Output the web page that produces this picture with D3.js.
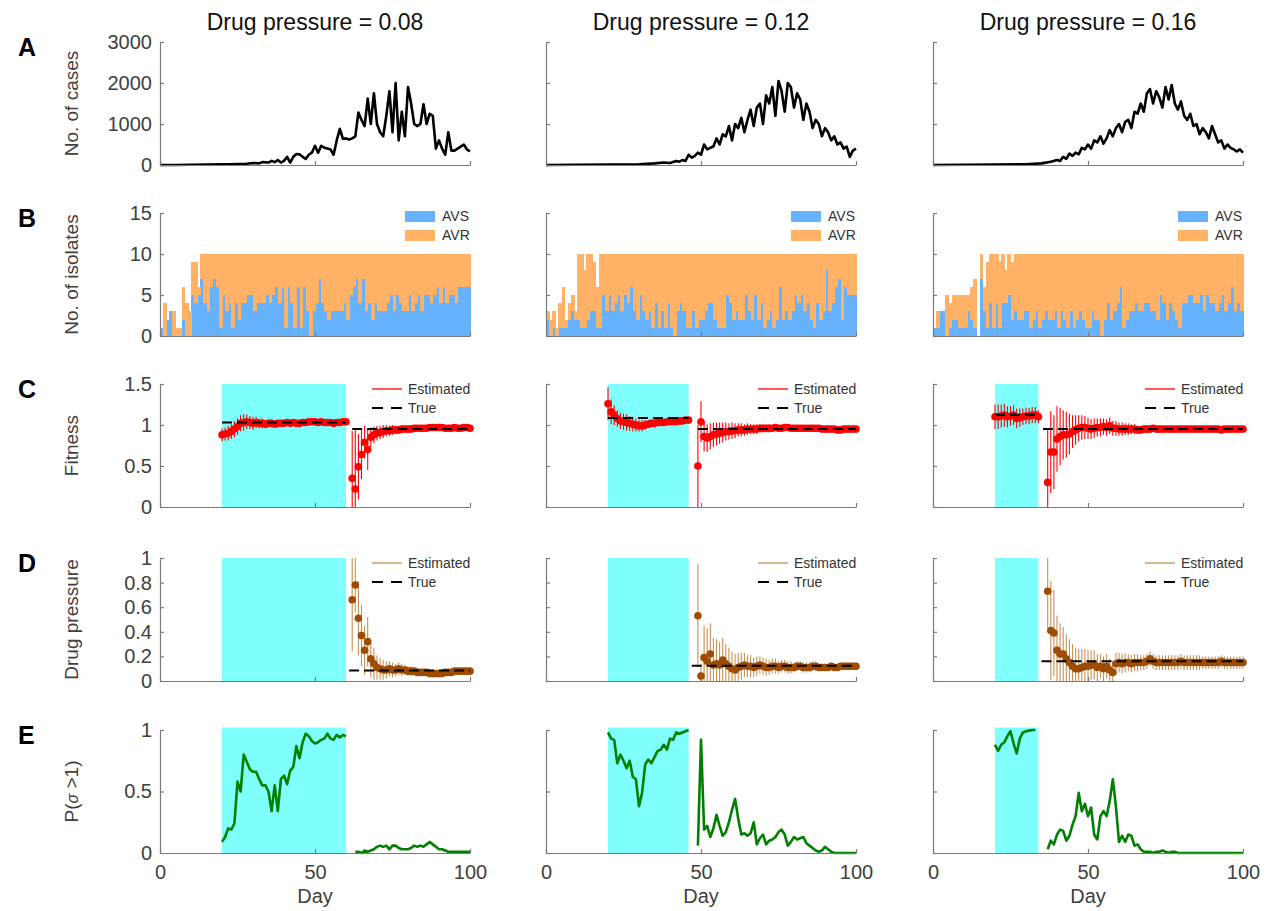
<!DOCTYPE html>
<html>
<head>
<meta charset="utf-8">
<script src="https://cdn.jsdelivr.net/npm/d3@7/dist/d3.min.js"></script>
<style>
  body { margin: 0; background: #fff; }
  text { font-family: "Liberation Sans", Arial, Helvetica, sans-serif; }
</style>
</head>
<body>
<svg id="chart" width="1271" height="911"></svg>
<script>
// ---- data ----
const pressures = ["0.08", "0.12", "0.16"];
const xTicks = [0, 50, 100];
const yTicksA = [0, 1000, 2000, 3000];
const yTicksB = [0, 5, 10, 15];
const yTicksC = [0, 0.5, 1, 1.5];
const yTicksD = [0, 0.2, 0.4, 0.6, 0.8, 1];
const yTicksE = [0, 0.5, 1];
const treatStart = 20;
const treatEnd = [60, 46, 34];

// A: no. of cases [day, count]
const cases08 = [[0,0],[5,0],[10,5],[15,10],[20,15],[22,20],[25,25],[28,30],[30,50],[32,40],[33,70],[35,60],[36,100],[37,70],[38,120],[39,60],[40,100],[41,200],[42,60],[43,200],[44,270],[45,260],[46,200],[47,150],[48,250],[49,300],[50,470],[51,300],[52,470],[53,420],[54,400],[55,380],[56,250],[57,600],[58,880],[59,640],[60,650],[61,620],[62,650],[63,700],[64,1280],[65,1100],[66,950],[67,1620],[68,1000],[69,1750],[70,1000],[71,800],[72,700],[73,1200],[74,1800],[75,800],[76,2000],[77,600],[78,1300],[79,700],[80,1900],[81,1500],[82,1000],[83,950],[84,1000],[85,1480],[86,1000],[87,1250],[88,1200],[89,400],[90,600],[91,400],[92,250],[93,800],[94,350],[95,350],[96,400],[97,450],[98,500],[99,380],[100,330]];
const cases12 = [[0,0],[10,5],[20,10],[30,20],[35,40],[38,60],[40,50],[42,100],[43,80],[44,120],[45,100],[46,250],[47,180],[48,220],[49,300],[50,250],[51,500],[52,380],[53,420],[54,450],[55,650],[56,500],[57,750],[58,700],[59,950],[60,600],[61,1000],[62,900],[63,1150],[64,800],[65,1100],[66,1350],[67,950],[68,1400],[69,1500],[70,1000],[71,1700],[72,1500],[73,1900],[74,1200],[75,2050],[76,1800],[77,1300],[78,2000],[79,1900],[80,1400],[81,1750],[82,1600],[83,1100],[84,1500],[85,1300],[86,900],[87,1100],[88,1000],[89,700],[90,900],[91,800],[92,600],[93,700],[94,500],[95,550],[96,400],[97,450],[98,200],[99,350],[100,400]];
const cases16 = [[0,0],[10,5],[20,10],[30,20],[35,40],[38,80],[40,120],[41,100],[42,200],[43,150],[44,280],[45,220],[46,300],[47,260],[48,420],[49,380],[50,500],[51,400],[52,600],[53,550],[54,700],[55,520],[56,650],[57,850],[58,700],[59,900],[60,1000],[61,800],[62,1050],[63,1100],[64,900],[65,1300],[66,1250],[67,1500],[68,1300],[69,1750],[70,1850],[71,1500],[72,1800],[73,1650],[74,1400],[75,1900],[76,1600],[77,1950],[78,1500],[79,1350],[80,1550],[81,1200],[82,1100],[83,1250],[84,950],[85,1000],[86,750],[87,900],[88,800],[89,650],[90,950],[91,750],[92,550],[93,600],[94,400],[95,500],[96,420],[97,380],[98,330],[99,380],[100,300]];

// B: isolates per day (days 1..100): AVS count and total
const avs08 = [1,0,2,3,0,0,0,2,0,0,5,4,5,
  7,4,3,6,7,6,1,5,3,4,1,4,2,4,4,5,5,3,4,4,4,5,4,5,6,4,6,1,6,4,1,6,1,6,3,0,3,4,7,4,
  3,2,3,3,3,3,4,2,5,6,7,4,7,3,4,2,4,3,3,3,4,5,3,5,4,3,3,5,3,4,5,3,5,5,4,5,6,4,6,4,5,5,4,6,6,6,6];
const tot08 = [1,4,2,3,3,1,1,6,4,3,9,9,6,
  10,10,10,10,10,10,10,10,10,10,10,10,10,10,10,10,10,10,10,10,10,10,10,10,10,10,10,10,10,10,
  10,10,10,10,10,10,10,10,10,10,10,10,10,10,10,10,10,10,10,10,10,10,10,10,10,10,10,10,10,10,
  10,10,10,10,10,10,10,10,10,10,10,10,10,10,10,10,10,10,10,10,10,10,10,10,10,10,10];
const avs12 = [2,0,1,0,1,1,1,2,3,2,2,1,1,2,3,3,1,1,5,3,
  5,3,4,5,3,5,4,6,3,2,5,3,2,3,1,4,1,3,1,4,1,0,3,4,3,1,1,3,1,2,2,3,4,4,2,1,1,1,5,4,2,3,
  2,2,5,3,2,5,2,4,1,2,3,1,2,6,2,3,2,3,5,4,5,3,4,2,1,4,2,3,8,3,4,6,7,2,6,5,5,5];
const tot12 = [3,2,3,1,4,6,2,4,5,3,10,10,8,10,10,9,6,10,10,10,
  10,10,10,10,10,10,10,10,10,10,10,10,10,10,10,10,10,10,10,10,10,10,10,10,10,10,10,10,10,10,
  10,10,10,10,10,10,10,10,10,10,10,10,10,10,10,10,10,10,10,10,10,10,10,10,10,10,10,10,10,10,
  10,10,10,10,10,10,10,10,10,10,10,10,10,10,10,10,10,10,10,10];
const avs16 = [1,1,3,3,0,1,2,2,1,1,1,3,2,1,0,7,3,1,4,1,4,1,4,4,5,2,3,2,2,3,
  3,1,2,3,1,2,3,2,2,3,1,3,2,1,3,1,2,3,2,1,1,3,2,2,0,2,4,2,3,4,6,1,2,3,3,4,3,3,4,4,
  3,3,2,5,4,2,4,3,2,1,4,4,5,5,4,4,5,3,5,4,4,3,4,5,3,4,6,3,4,3];
const tot16 = [1,3,3,3,5,4,5,5,5,5,5,5,6,7,0,10,6,9,10,10,10,9,10,8,10,9,10,10,10,10,
  10,10,10,10,10,10,10,10,10,10,10,10,10,10,10,10,10,10,10,10,10,10,10,10,10,10,10,10,10,10,
  10,10,10,10,10,10,10,10,10,10,10,10,10,10,10,10,10,10,10,10,10,10,10,10,10,10,10,10,10,10,
  10,10,10,10,10,10,10,10,10,10];

// C: fitness estimates (segment start day, estimate, error half-width)
const fit08a = [0.88,0.89,0.90,0.92,0.95,0.98,1.02,1.03,1.04,1.03,1.02,1.03,1.02,1.02,1.01,1.02,1.02,1.01,1.02,1.02,1.02,1.03,1.02,1.03,1.02,1.02,1.03,1.03,1.04,1.04,1.04,1.03,1.04,1.03,1.03,1.03,1.02,1.03,1.03,1.04,1.04];
const fitErr08a = [0.08,0.08,0.09,0.09,0.10,0.10,0.10,0.10,0.09,0.08,0.08,0.07,0.06,0.06,0.05,0.05,0.05,0.04,0.04,0.04,0.04,0.03,0.03,0.03,0.03,0.03,0.03,0.03,0.03,0.02,0.02,0.02,0.02,0.02,0.02,0.02,0.02,0.02,0.02,0.02,0.02];
const fit08b = [0.35,0.22,0.49,0.64,0.79,0.70,0.85,0.88,0.90,0.91,0.92,0.93,0.93,0.94,0.94,0.94,0.95,0.95,0.95,0.95,0.96,0.96,0.96,0.96,0.96,0.97,0.97,0.97,0.97,0.97,0.96,0.96,0.96,0.97,0.96,0.96,0.97,0.97,0.96];
const fitErr08b = [0.58,0.73,0.40,0.30,0.20,0.25,0.12,0.10,0.09,0.08,0.08,0.07,0.06,0.06,0.05,0.05,0.05,0.04,0.04,0.04,0.04,0.03,0.03,0.03,0.03,0.03,0.03,0.02,0.02,0.02,0.02,0.02,0.02,0.02,0.02,0.02,0.02,0.02,0.02];
const fit12a = [1.26,1.16,1.12,1.08,1.05,1.04,1.03,1.02,1.01,1.00,0.99,0.99,1.00,1.01,1.02,1.02,1.03,1.03,1.03,1.04,1.04,1.04,1.04,1.05,1.05,1.06,1.06];
const fitErr12a = [0.20,0.15,0.12,0.10,0.10,0.10,0.10,0.09,0.09,0.08,0.07,0.07,0.06,0.05,0.05,0.05,0.04,0.04,0.04,0.04,0.03,0.03,0.03,0.03,0.03,0.03,0.03];
const fit12b = [0.50,1.04,0.86,0.84,0.86,0.88,0.89,0.90,0.91,0.92,0.92,0.93,0.93,0.94,0.94,0.94,0.95,0.95,0.95,0.95,0.96,0.96,0.96,0.96,0.96,0.97,0.96,0.96,0.97,0.97,0.96,0.96,0.96,0.96,0.96,0.96,0.96,0.96,0.96,0.96,0.95,0.95,0.95,0.95,0.95,0.94,0.94,0.95,0.95,0.95,0.95,0.95];
const fitErr12b = [0.50,0.25,0.18,0.17,0.16,0.15,0.14,0.13,0.12,0.11,0.10,0.10,0.09,0.08,0.08,0.07,0.07,0.06,0.06,0.06,0.05,0.05,0.05,0.05,0.04,0.04,0.04,0.04,0.04,0.03,0.03,0.03,0.03,0.03,0.03,0.03,0.03,0.03,0.02,0.02,0.02,0.02,0.02,0.02,0.02,0.02,0.02,0.02,0.02,0.02,0.02,0.02];
const fit16a = [1.10,1.10,1.11,1.12,1.10,1.11,1.12,1.08,1.09,1.10,1.11,1.11,1.12,1.12,1.10];
const fitErr16a = [0.15,0.15,0.14,0.14,0.13,0.12,0.12,0.12,0.11,0.10,0.10,0.10,0.10,0.10,0.08];
const fit16b = [0.30,0.67,0.67,0.83,0.86,0.88,0.88,0.89,0.92,0.94,0.96,0.97,0.97,0.96,0.95,0.96,0.97,0.97,0.98,0.97,0.99,0.96,0.96,0.95,0.95,0.95,0.95,0.95,0.95,0.94,0.94,0.95,0.95,0.95,0.96,0.95,0.95,0.95,0.95,0.95,0.95,0.95,0.95,0.95,0.95,0.95,0.95,0.95,0.95,0.95,0.95,0.95,0.95,0.95,0.95,0.95,0.94,0.95,0.95,0.95,0.95,0.95,0.95,0.95];
const fitErr16b = [0.65,0.50,0.45,0.40,0.35,0.30,0.28,0.25,0.20,0.18,0.16,0.15,0.14,0.13,0.12,0.12,0.11,0.11,0.10,0.10,0.10,0.09,0.09,0.08,0.08,0.07,0.07,0.06,0.06,0.05,0.05,0.05,0.05,0.04,0.04,0.04,0.04,0.04,0.04,0.03,0.03,0.03,0.03,0.03,0.03,0.03,0.03,0.03,0.03,0.03,0.03,0.03,0.03,0.03,0.03,0.03,0.03,0.03,0.03,0.03,0.03,0.03,0.03,0.03];
// true fitness [from day, to day, value]
const fitTrue08 = [[20, 60, 1.03], [62, 100, 0.95]];
const fitTrue12 = [[20, 46, 1.085], [49, 100, 0.95]];
const fitTrue16 = [[20, 34, 1.125], [35.5, 100, 0.95]];

// D: drug pressure estimates
const prs08 = [0.66,0.78,0.51,0.37,0.25,0.32,0.18,0.14,0.11,0.10,0.09,0.09,0.10,0.09,0.09,0.10,0.09,0.09,0.08,0.08,0.08,0.07,0.07,0.07,0.07,0.06,0.06,0.06,0.06,0.06,0.07,0.07,0.07,0.08,0.08,0.08,0.08,0.08,0.08];
const prsErr08 = [0.42,0.22,0.30,0.25,0.20,0.20,0.15,0.13,0.10,0.09,0.08,0.07,0.06,0.06,0.05,0.05,0.05,0.04,0.04,0.04,0.03,0.03,0.03,0.03,0.03,0.03,0.03,0.02,0.02,0.02,0.02,0.02,0.02,0.02,0.02,0.02,0.02,0.02,0.02];
const prs12 = [0.53,0.04,0.19,0.16,0.22,0.13,0.14,0.13,0.17,0.14,0.12,0.10,0.09,0.11,0.12,0.13,0.12,0.12,0.11,0.12,0.13,0.12,0.11,0.11,0.12,0.12,0.11,0.12,0.12,0.11,0.11,0.11,0.12,0.12,0.11,0.11,0.11,0.12,0.12,0.11,0.11,0.11,0.11,0.12,0.11,0.11,0.12,0.12,0.12,0.12,0.12,0.12];
const prsErr12 = [0.42,0.10,0.26,0.27,0.25,0.22,0.20,0.19,0.18,0.16,0.15,0.14,0.13,0.12,0.11,0.10,0.09,0.09,0.08,0.08,0.07,0.07,0.07,0.06,0.06,0.06,0.05,0.05,0.05,0.05,0.05,0.04,0.04,0.04,0.04,0.04,0.04,0.04,0.04,0.03,0.03,0.03,0.03,0.03,0.03,0.03,0.03,0.03,0.03,0.03,0.03,0.03];
const prs16 = [0.73,0.41,0.39,0.25,0.22,0.22,0.18,0.15,0.12,0.10,0.10,0.11,0.12,0.12,0.13,0.13,0.11,0.12,0.10,0.12,0.09,0.07,0.14,0.15,0.14,0.15,0.15,0.14,0.15,0.15,0.15,0.15,0.16,0.18,0.16,0.15,0.15,0.15,0.15,0.15,0.15,0.15,0.15,0.16,0.15,0.15,0.15,0.15,0.15,0.15,0.15,0.15,0.15,0.15,0.15,0.15,0.16,0.15,0.15,0.15,0.15,0.15,0.15,0.15];
const prsErr16 = [0.30,0.40,0.35,0.28,0.25,0.22,0.20,0.19,0.18,0.17,0.16,0.15,0.14,0.13,0.12,0.12,0.11,0.10,0.10,0.10,0.09,0.09,0.09,0.08,0.08,0.08,0.07,0.07,0.07,0.07,0.06,0.06,0.06,0.06,0.06,0.06,0.06,0.06,0.06,0.06,0.06,0.06,0.06,0.06,0.06,0.06,0.06,0.06,0.06,0.06,0.05,0.05,0.05,0.05,0.05,0.05,0.05,0.05,0.05,0.05,0.05,0.05,0.05,0.05];
const prsTrue08 = [[61, 100, 0.085]];
const prsTrue12 = [[47, 100, 0.125]];
const prsTrue16 = [[35, 100, 0.16]];

// E: P(sigma > 1)
const pE08a = [0.09,0.13,0.20,0.19,0.24,0.58,0.50,0.80,0.74,0.68,0.66,0.66,0.60,0.55,0.55,0.50,0.34,0.55,0.34,0.60,0.63,0.56,0.67,0.70,0.87,0.77,0.90,0.97,0.95,0.91,0.89,0.90,0.92,0.93,0.97,0.93,0.92,0.96,0.94,0.96,0.95];
const pE08b = [0.01,0.01,0.00,0.02,0.01,0.02,0.03,0.05,0.06,0.05,0.06,0.03,0.06,0.06,0.04,0.03,0.03,0.03,0.04,0.06,0.05,0.06,0.05,0.07,0.09,0.07,0.05,0.03,0.03,0.02,0.01,0.01,0.01,0.01,0.01,0.01,0.01,0.01];
const pE12a = [0.98,0.93,0.92,0.73,0.80,0.75,0.69,0.75,0.62,0.60,0.38,0.49,0.72,0.76,0.73,0.78,0.83,0.84,0.88,0.84,0.93,0.92,0.98,0.97,0.98,0.99,1.00];
const pE12b = [0.06,0.92,0.19,0.22,0.13,0.20,0.31,0.22,0.14,0.17,0.25,0.35,0.44,0.28,0.15,0.16,0.14,0.16,0.25,0.07,0.12,0.15,0.07,0.10,0.11,0.13,0.17,0.19,0.15,0.06,0.09,0.13,0.11,0.12,0.13,0.08,0.06,0.04,0.02,0.01,0.02,0.05,0.03,0.01,0,0,0,0,0,0,0,0];
const pE16a = [0.88,0.83,0.88,0.90,0.95,0.99,0.89,0.81,0.93,0.98,0.99,0.995,1.00,1.00];
const pE16b = [0.03,0.10,0.07,0.15,0.19,0.18,0.10,0.14,0.23,0.30,0.49,0.34,0.40,0.30,0.37,0.15,0.11,0.30,0.34,0.30,0.42,0.60,0.38,0.09,0.14,0.09,0.15,0.14,0.06,0.07,0.03,0.01,0.01,0.01,0.00,0.01,0.01,0.02,0.01,0.00,0.01,0.01,0,0,0,0,0,0,0,0,0,0,0,0,0,0,0,0,0,0,0,0,0,0];

// ---- tables built from the arrays ----
const casesByCol = [cases08, cases12, cases16];
const avsByCol = [avs08, avs12, avs16];
const totByCol = [tot08, tot12, tot16];
const fitByCol = [
  [{start: 20, est: fit08a, err: fitErr08a}, {start: 62, est: fit08b, err: fitErr08b}],
  [{start: 20, est: fit12a, err: fitErr12a}, {start: 49, est: fit12b, err: fitErr12b}],
  [{start: 20, est: fit16a, err: fitErr16a}, {start: 37, est: fit16b, err: fitErr16b}]
];
const fitTrueByCol = [fitTrue08, fitTrue12, fitTrue16];
const prsByCol = [
  [{start: 62, est: prs08, err: prsErr08}],
  [{start: 49, est: prs12, err: prsErr12}],
  [{start: 37, est: prs16, err: prsErr16}]
];
const prsTrueByCol = [prsTrue08, prsTrue12, prsTrue16];
const pEByCol = [
  [{start: 20, v: pE08a}, {start: 63, v: pE08b}],
  [{start: 20, v: pE12a}, {start: 49, v: pE12b}],
  [{start: 20, v: pE16a}, {start: 37, v: pE16b}]
];

// ---- layout ----
const colX = [160, 546, 933], colW = 310;
const rowTop = [42, 213, 384, 558, 730], rowH = 123;
const letters = ["A", "B", "C", "D", "E"];
const yLabels = ["No. of cases", "No. of isolates", "Fitness", "Drug pressure", null];
const yMax = [3000, 15, 1.5, 1, 1];
const yTicks = [yTicksA, yTicksB, yTicksC, yTicksD, yTicksE];

const cyan = "#80ffff", blue = "#66b2ff", orange = "#ffb266";
const red = "#ff0000", brown = "#9e4c02", tan = "#c98f52", green = "#008000";
const axisGray = "#7a7a7a", labelGray = "#404040";

const svg = d3.select("#chart");
const fmt = d3.format("~g");

function styleAxis(sel, size) {
  sel.attr("font-family", null).attr("font-size", null);
  sel.selectAll(".domain, .tick line").attr("stroke", axisGray).attr("stroke-width", 1.2);
  sel.selectAll(".tick text").attr("fill", labelGray).style("font-size", size + "px");
}

function drawAxes(x, y, row, col) {
  const ya = d3.axisLeft(y).tickValues(yTicks[row]).tickSize(-4).tickSizeOuter(0).tickPadding(8)
    .tickFormat(col === 0 ? fmt : () => "");
  svg.append("g").attr("transform", `translate(${x(0)},0)`).call(ya).call(styleAxis, 20);
  const xa = d3.axisBottom(x).tickValues(xTicks).tickSize(-4).tickSizeOuter(0).tickPadding(12)
    .tickFormat(row === 4 ? d3.format("d") : () => "");
  svg.append("g").attr("transform", `translate(0,${y(0)})`).call(xa).call(styleAxis, 20);
}

function drawCyan(x, y, col, top) {
  svg.append("rect")
    .attr("x", x(treatStart)).attr("width", x(treatEnd[col]) - x(treatStart))
    .attr("y", y(top)).attr("height", y(0) - y(top))
    .attr("fill", cyan);
}

function drawEstimates(x, y, segs, barColor, dotColor, top) {
  segs.forEach(s => {
    const pts = s.est.map((v, i) => ({day: s.start + i, v: v, e: s.err[i]}));
    svg.append("g").selectAll("line").data(pts).join("line")
      .attr("x1", d => x(d.day)).attr("x2", d => x(d.day))
      .attr("y1", d => y(Math.min(top, d.v + d.e))).attr("y2", d => y(Math.max(0, d.v - d.e)))
      .attr("stroke", barColor).attr("stroke-width", 1.1);
    svg.append("g").selectAll("circle").data(pts).join("circle")
      .attr("cx", d => x(d.day)).attr("cy", d => y(d.v)).attr("r", 3.8)
      .attr("fill", dotColor);
  });
}

function drawTrue(x, y, segs) {
  svg.append("g").selectAll("line").data(segs).join("line")
    .attr("x1", d => x(d[0])).attr("x2", d => x(d[1]))
    .attr("y1", d => y(d[2])).attr("y2", d => y(d[2]))
    .attr("stroke", "#000").attr("stroke-width", 2).attr("stroke-dasharray", "10,5");
}

function estLegend(x0, top, lineColor) {
  const g = svg.append("g").attr("transform", `translate(${x0},${top})`);
  g.append("line").attr("x1", 212).attr("x2", 242).attr("y1", 5).attr("y2", 5)
    .attr("stroke", lineColor).attr("stroke-width", 1.3);
  g.append("text").attr("x", 248).attr("y", 10).text("Estimated")
    .attr("font-size", 14).attr("fill", "#333");
  g.append("line").attr("x1", 212).attr("x2", 242).attr("y1", 24).attr("y2", 24)
    .attr("stroke", "#000").attr("stroke-width", 2).attr("stroke-dasharray", "11,8");
  g.append("text").attr("x", 248).attr("y", 29).text("True")
    .attr("font-size", 14).attr("fill", "#333");
}

for (let col = 0; col < 3; col++) {
  const x0 = colX[col];
  const x = d3.scaleLinear().domain([0, 100]).range([x0, x0 + colW]);

  // column title
  svg.append("text").attr("x", x0 + colW / 2).attr("y", 30)
    .attr("text-anchor", "middle").attr("font-size", 23).attr("fill", "#111")
    .text("Drug pressure = " + pressures[col]);

  for (let row = 0; row < 5; row++) {
    const y = d3.scaleLinear().domain([0, yMax[row]]).range([rowTop[row] + rowH, rowTop[row]]);

    if (row === 0) {
      svg.append("path").datum(casesByCol[col])
        .attr("d", d3.line().x(d => x(d[0])).y(d => y(d[1])))
        .attr("fill", "none").attr("stroke", "#000").attr("stroke-width", 2.6)
        .attr("stroke-linejoin", "round");
    }

    if (row === 1) {
      const days = d3.range(1, 101);
      const rows = days.map((d, i) => ({day: d, avs: avsByCol[col][i], avr: totByCol[col][i] - avsByCol[col][i]}));
      const band = d3.scaleBand().domain(days).range([x(0), x(100)]).padding(0);
      const stack = d3.stack().keys(["avs", "avr"])(rows);
      const colors = {avs: blue, avr: orange};
      svg.append("g").attr("shape-rendering", "crispEdges")
        .selectAll("g").data(stack).join("g")
        .attr("fill", s => colors[s.key])
        .selectAll("rect").data(s => s).join("rect")
        .attr("x", d => band(d.data.day)).attr("width", band.bandwidth() + 0.6)
        .attr("y", d => y(d[1])).attr("height", d => y(d[0]) - y(d[1]));
      // legend
      const lg = svg.append("g").attr("transform", `translate(${x0},${rowTop[row]})`);
      [["AVS", blue, -2], ["AVR", orange, 17]].forEach(([name, c, dy]) => {
        lg.append("rect").attr("x", 245).attr("y", dy).attr("width", 30).attr("height", 11).attr("fill", c);
        lg.append("text").attr("x", 282).attr("y", dy + 10).attr("font-size", 14).attr("fill", "#333").text(name);
      });
    }

    if (row === 2) {
      drawCyan(x, y, col, 1.5);
      drawEstimates(x, y, fitByCol[col], red, red, 1.5);
      drawTrue(x, y, fitTrueByCol[col]);
      estLegend(x0, rowTop[row], red);
    }

    if (row === 3) {
      drawCyan(x, y, col, 1);
      drawEstimates(x, y, prsByCol[col], tan, brown, 1);
      drawTrue(x, y, prsTrueByCol[col]);
      estLegend(x0, rowTop[row], tan);
    }

    if (row === 4) {
      drawCyan(x, y, col, 1.02);
      pEByCol[col].forEach(s => {
        svg.append("path").datum(s.v)
          .attr("d", d3.line().x((v, i) => x(s.start + i)).y(v => y(v)))
          .attr("fill", "none").attr("stroke", green).attr("stroke-width", 2.6)
          .attr("stroke-linejoin", "round");
      });
      svg.append("text").attr("x", x0 + colW / 2).attr("y", 903)
        .attr("text-anchor", "middle").attr("font-size", 20).attr("fill", labelGray).text("Day");
    }

    drawAxes(x, y, row, col);

    if (col === 0) {
      svg.append("text").attr("x", 18).attr("y", rowTop[row] + 14)
        .attr("font-size", 25).attr("font-weight", "bold").attr("fill", "#000").text(letters[row]);
      const ly = svg.append("text")
        .attr("transform", `translate(78,${rowTop[row] + rowH / 2}) rotate(-90)`)
        .attr("text-anchor", "middle").attr("font-size", 19).attr("fill", labelGray);
      if (yLabels[row]) {
        ly.text(yLabels[row]);
      } else {
        ly.append("tspan").text("P(");
        ly.append("tspan").attr("font-style", "italic").attr("font-size", 16).text("σ");
        ly.append("tspan").text(" >1)");
      }
    }
  }
}
</script>
</body>
</html>
